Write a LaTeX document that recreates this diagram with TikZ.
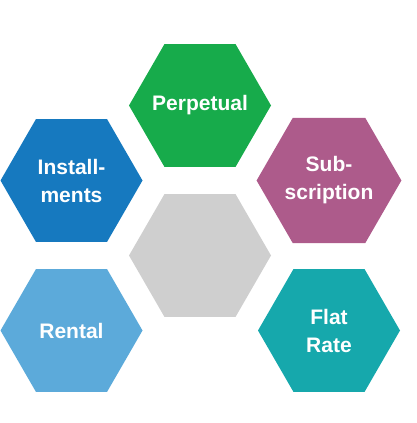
\documentclass[tikz,border=0pt]{standalone}
\usepackage{fontspec}
\setmainfont{Liberation Sans}
\usepackage{tikz}
\usetikzlibrary{shapes.geometric}
\definecolor{hexgreen}{HTML}{17AB4B}
\definecolor{hexblue}{HTML}{1679BF}
\definecolor{hexplum}{HTML}{AD5B8B}
\definecolor{hexsky}{HTML}{5CAADA}
\definecolor{hexteal}{HTML}{16A8AC}
\definecolor{hexgrey}{HTML}{CFCFCF}

\begin{document}
\begin{tikzpicture}[x=1pt, y=1pt,
  hexa/.style={regular polygon, regular polygon sides=6, minimum size=142pt, inner sep=0pt, draw=none, align=center, text=white, font=\fontsize{21}{28}\selectfont\bfseries}
]
\useasboundingbox (0,0) rectangle (417,423);
\node[hexa, fill=hexgrey] (hub) at (200,167.5) {};
\node[hexa, fill=hexgreen] (perpetual) at (200,317.5) {\makebox[0pt]{Perpetual}};
\node[hexa, fill=hexblue] (install) at (71.5,242.5) {Install-\\ments};
\node[hexa, fill=hexplum] (subscr) at (329,242.5) {Sub-\\scription};
\node[hexa, fill=hexsky] (rental) at (71.5,92.5) {Rental};
\node[hexa, fill=hexteal] (flatrate) at (329,92.5) {Flat\\Rate};
\end{tikzpicture}
\end{document}
